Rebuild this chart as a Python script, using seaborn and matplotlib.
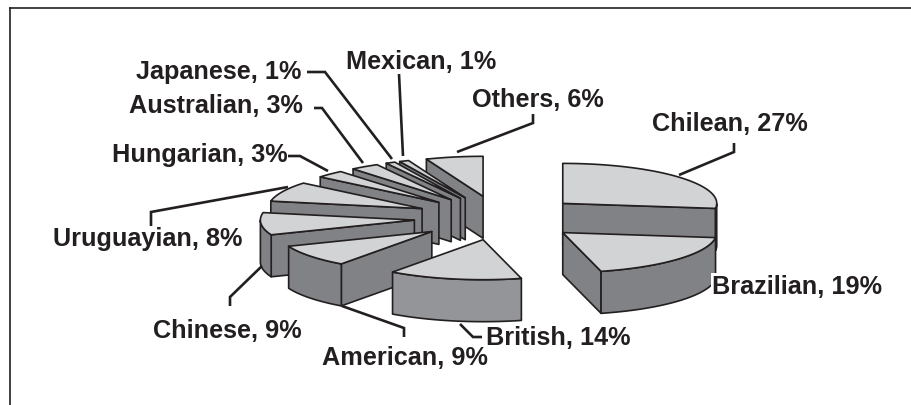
import numpy as np
import matplotlib
matplotlib.use("Agg")
import matplotlib.pyplot as plt
import seaborn as sns

# clockwise from 12 o'clock
origins = ["Chilean", "Brazilian", "British", "American", "Chinese", "Uruguayian",
           "Hungarian", "Australian", "Japanese", "Mexican", "Others"]
shares = [27, 19, 14, 9, 9, 8, 3, 3, 1, 1, 6]

# label left edge / centre y, in pixels of the 911x406 picture
label_x = [652, 712, 486, 322, 153, 53, 112, 129, 136, 346, 472]
label_y = [124, 287, 338, 358, 331, 239, 155, 106, 72, 62, 100]

leaders = [
    [(734, 144), (734, 153), (679, 176)],
    [],
    [(482, 338), (473, 338), (460, 325)],
    [(404, 338), (404, 329), (342, 307)],
    [(230, 307), (230, 298), (262, 267)],
    [(151, 227), (151, 213), (288, 188)],
    [(288, 157), (300, 157), (328, 172)],
    [(314, 109), (322, 109), (363, 164)],
    [(307, 73), (325, 73), (392, 160)],
    [(399, 75), (403, 157)],
    [(533, 115), (533, 124), (457, 153)],
]

# projection of the pie
CX, CY = 499, 219
RX, RY = 154, 40
EXPLODE = 85
DEPTH = 42

TOP = "#d1d3d4"
SIDE = "#808285"
SIDE_LIGHT = "#939598"
INK = "#231f20"
LW = 1.2

sns.set_theme(style="white")
plt.rcParams["font.family"] = ["Liberation Sans", "DejaVu Sans"]

fig = plt.figure(figsize=(9.11, 4.06), dpi=100)
ax = fig.add_axes([10 / 911, 0, 901 / 911, 397 / 406])
ax.set_xlim(10, 911)
ax.set_ylim(406, 9)
ax.set_xticks([])
ax.set_yticks([])
ax.patch.set_alpha(0)
sns.despine(ax=ax, top=False, right=True, bottom=True)
ax.spines["left"].set_color(INK)
ax.spines["top"].set_color(INK)
ax.spines["left"].set_linewidth(1.2)
ax.spines["top"].set_linewidth(1.2)

ends = 90 - np.cumsum(shares) * 3.6
starts = ends + np.array(shares) * 3.6


def rim(ox, oy, angles):
    r = np.radians(angles)
    return ox + RX * np.cos(r), oy - RY * np.sin(r)


wedges = []
for i, (a1, a2) in enumerate(zip(starts, ends)):
    mid = np.radians((a1 + a2) / 2)
    ox = CX + EXPLODE * np.cos(mid)
    oy = CY - EXPLODE * RY / RX * np.sin(mid)
    wedges.append((oy, i, ox, a1, a2))

# back to front
for oy, i, ox, a1, a2 in sorted(wedges):
    side = SIDE_LIGHT if origins[i] == "British" else SIDE
    kw = dict(edgecolor=INK, linewidth=LW, joinstyle="round")

    # cut faces that look at the viewer
    for a, normal in ((a1, a1 + 90), (a2, a2 - 90)):
        if np.sin(np.radians(normal)) < -1e-6:
            x, y = rim(ox, oy, np.array([a]))
            ax.fill([ox, x[0], x[0], ox], [oy, y[0], y[0] + DEPTH, oy + DEPTH],
                    facecolor=side, **kw)

    # outer wall, only the lower half of the ellipse shows
    arc = np.linspace(a1, a2, 80)
    front = arc[np.sin(np.radians(arc)) < 0]
    if len(front) > 1:
        x, y = rim(ox, oy, front)
        ax.fill(np.r_[x, x[::-1]], np.r_[y, y[::-1] + DEPTH], facecolor=side, **kw)

    x, y = rim(ox, oy, arc)
    ax.fill(np.r_[ox, x], np.r_[oy, y], facecolor=TOP, **kw)

for pts in leaders:
    if pts:
        xs, ys = zip(*pts)
        ax.plot(xs, ys, color=INK, linewidth=1.9, solid_joinstyle="miter",
                solid_capstyle="butt", clip_on=False)

for name, share, x, y in zip(origins, shares, label_x, label_y):
    box = dict(facecolor="white", edgecolor="none", pad=0.6) if name in ("Brazilian", "British") else None
    ax.text(x, y, f"{name}, {share}%", ha="left", va="center", fontsize=18.2,
            fontweight="bold", color=INK, bbox=box)

fig.savefig("out.png", dpi=100)
